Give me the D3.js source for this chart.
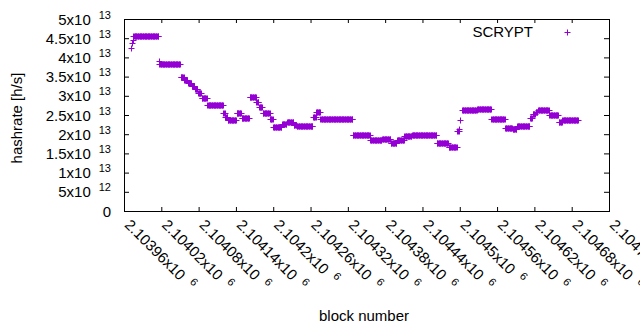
<!DOCTYPE html>
<meta charset="utf-8">
<style>
  body { margin: 0; background: #fff; }
  text { font-family: "Liberation Sans", Arial, sans-serif; fill: #000; }
</style>
<body>
<script src="https://cdn.jsdelivr.net/npm/d3@7"></script>
<script>

    // hashrate is constant between retargets, so the series is kept as runs of blocks
    // (offset from 2103960, first and last block of the run, value in units of 1e13 h/s)
    var runStart = [11, 13, 14, 15, 56, 57, 91, 97, 103, 109, 114, 119, 125, 134, 160, 163, 167, 181, 189,
                    202, 213, 217, 223, 235, 240, 254, 262, 273, 278, 293, 304, 309, 316, 368, 396, 415,
                    429, 439, 451, 463, 503, 522, 536, 539, 541, 544, 568, 591, 613, 625, 632, 653, 657,
                    662, 666, 684, 699, 705];
    var runEnd   = [11, 13, 14, 55, 56, 90, 96, 102, 108, 113, 118, 124, 133, 159, 162, 166, 180, 188, 201,
                    212, 216, 222, 234, 239, 253, 261, 272, 277, 292, 303, 308, 315, 367, 395, 414, 428,
                    438, 450, 462, 502, 521, 535, 538, 539, 541, 567, 590, 612, 624, 631, 652, 656, 661,
                    665, 683, 698, 704, 730];
    var runValue = [4.25, 4.38, 4.45, 4.55, 3.90, 3.83, 3.48, 3.40, 3.33, 3.26, 3.18, 3.07, 2.94, 2.75, 2.56,
                    2.45, 2.37, 2.54, 2.41, 2.96, 2.83, 2.72, 2.54, 2.40, 2.19, 2.27, 2.33, 2.25, 2.21, 2.22,
                    2.46, 2.57, 2.39, 1.98, 1.84, 1.88, 1.78, 1.84, 1.95, 1.98, 1.77, 1.67, 2.08, 2.13, 2.37,
                    2.64, 2.66, 2.39, 2.17, 2.13, 2.22, 2.42, 2.52, 2.57, 2.63, 2.49, 2.33, 2.36];
    var firstBlock = 2103960;

    var xTickValues = [2103960, 2104020, 2104080, 2104140, 2104200, 2104260, 2104320,
                       2104380, 2104440, 2104500, 2104560, 2104620, 2104680, 2104740];
    var xTickBase = ["2.10396x10", "2.10402x10", "2.10408x10", "2.10414x10", "2.1042x10", "2.10426x10",
                     "2.10432x10", "2.10438x10", "2.10444x10", "2.1045x10", "2.10456x10", "2.10462x10",
                     "2.10468x10", "2.10474x10"];
    var xTickExp = "6";

    var yTickValues = [0, 5e12, 1e13, 1.5e13, 2e13, 2.5e13, 3e13, 3.5e13, 4e13, 4.5e13, 5e13];
    var yTickBase = ["0", "5x10", "1x10", "1.5x10", "2x10", "2.5x10", "3x10", "3.5x10", "4x10", "4.5x10", "5x10"];
    var yTickExp  = ["", "12", "13", "13", "13", "13", "13", "13", "13", "13", "13"];

    var seriesName = "SCRYPT";
    var color = "#9400d3";

    var w = 640, h = 330;
    // note: "top" is taken by window.top, so the plot edges get a prefix
    var plotL = 124, plotR = 609, plotT = 19, plotB = 211;

    var svg = d3.select("body")
            .append("svg")
            .attr("width", w)
            .attr("height", h);

    svg.append("rect").attr("width", w).attr("height", h).attr("fill", "#fff");

    var x = d3.scaleLinear().domain([2103960, 2104740]).range([plotL, plotR]);
    var y = d3.scaleLinear().domain([0, 5e13]).range([plotB, plotT]);

    // expand the runs into one point per block
    var points = [];
    runStart.forEach(function(s, i) {
        for (var b = s; b <= runEnd[i]; b++) {
            points.push({block: firstBlock + b, value: runValue[i] * 1e13});
        }
    });

    // axes, ticks pointing inwards
    var gx = svg.append("g")
            .attr("transform", "translate(0," + plotB + ")")
            .call(d3.axisBottom(x).tickValues(xTickValues).tickSizeInner(-4).tickSizeOuter(0));
    svg.append("g")
            .attr("transform", "translate(0," + plotT + ")")
            .call(d3.axisTop(x).tickValues(xTickValues).tickSizeInner(-4).tickSizeOuter(0).tickFormat(""));
    var gy = svg.append("g")
            .attr("transform", "translate(" + plotL + ",0)")
            .call(d3.axisLeft(y).tickValues(yTickValues).tickSizeInner(-5).tickSizeOuter(0));
    svg.append("g")
            .attr("transform", "translate(" + plotR + ",0)")
            .call(d3.axisRight(y).tickValues(yTickValues).tickSizeInner(-5).tickSizeOuter(0).tickFormat(""));

    svg.selectAll(".domain").remove();
    svg.selectAll(".tick line").attr("stroke", "#000");

    // y labels with superscript exponent
    gy.selectAll(".tick text").each(function(d, i) {
        var t = d3.select(this).text("")
                .attr("x", -13).attr("dy", null).attr("y", 5)
                .attr("text-anchor", "end")
                .attr("font-size", 15).attr("fill", "#000")
                .attr("font-family", "Liberation Sans, Arial, sans-serif");
        t.append("tspan").text(yTickBase[i]);
        if (yTickExp[i]) {
            t.append("tspan").attr("dx", 8).attr("dy", -6).attr("font-size", 11).text(yTickExp[i]);
        }
    });

    // x labels rotated, with superscript exponent
    gx.selectAll(".tick text").each(function(d, i) {
        var t = d3.select(this).text("")
                .attr("x", 0).attr("y", 0).attr("dy", "0.35em")
                .attr("transform", "translate(3,11) rotate(45)")
                .attr("text-anchor", "start")
                .attr("font-size", 15).attr("fill", "#000")
                .attr("font-family", "Liberation Sans, Arial, sans-serif");
        t.append("tspan").text(xTickBase[i]);
        t.append("tspan").attr("dx", 8).attr("dy", -6).attr("font-size", 11).text(xTickExp);
    });

    // frame
    svg.append("rect")
            .attr("x", plotL + 0.5).attr("y", plotT + 0.5)
            .attr("width", plotR - plotL).attr("height", plotB - plotT)
            .attr("fill", "none").attr("stroke", "#000");

    // points drawn as "+"
    var cross = "M-3,0H3M0,-3V3";
    svg.append("g").selectAll("path")
            .data(points)
            .enter()
            .append("path")
            .attr("d", cross)
            .attr("transform", function(d) {
                return "translate(" + (Math.round(x(d.block)) + 0.5) + "," + (Math.round(y(d.value)) + 0.5) + ")";
            })
            .attr("fill", "none")
            .attr("stroke", color)
            .attr("stroke-width", 1);

    // legend
    svg.append("text")
            .attr("x", 533).attr("y", 37)
            .attr("text-anchor", "end")
            .attr("font-size", 15)
            .text(seriesName);
    svg.append("path")
            .attr("d", cross)
            .attr("transform", "translate(567.5,32.5)")
            .attr("fill", "none")
            .attr("stroke", color);

    // axis titles
    svg.append("text")
            .attr("x", 364).attr("y", 321)
            .attr("text-anchor", "middle")
            .attr("font-size", 15)
            .text("block number");
    svg.append("text")
            .attr("transform", "translate(22,118) rotate(-90)")
            .attr("text-anchor", "middle")
            .attr("font-size", 15)
            .text("hashrate [h/s]");

</script>
